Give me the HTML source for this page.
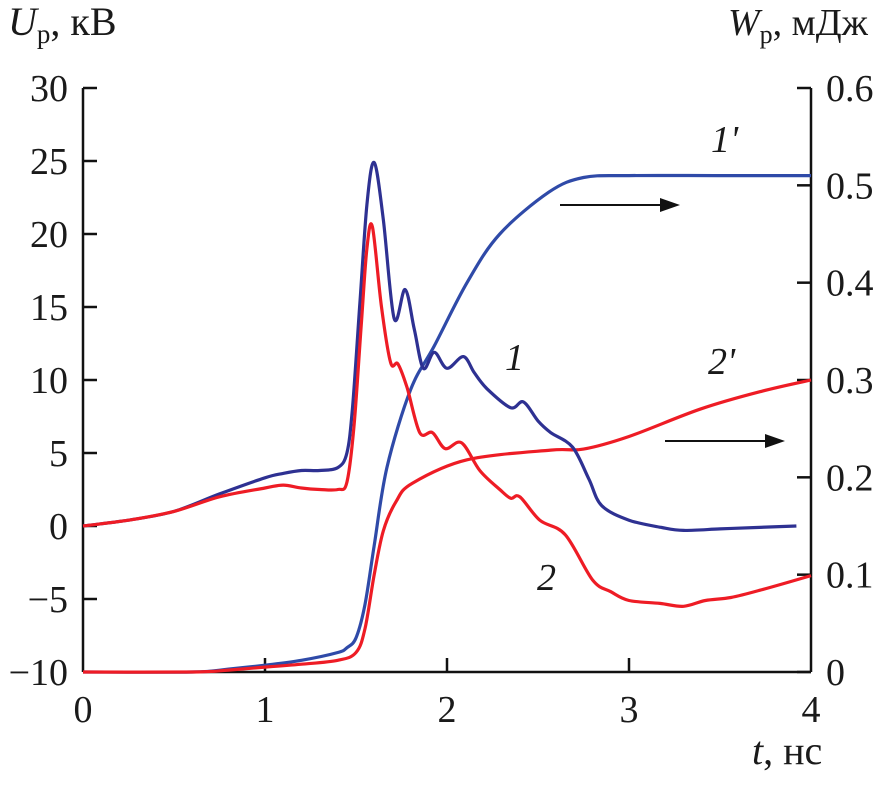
<!DOCTYPE html>
<html><head><meta charset="utf-8"><style>
html,body{margin:0;padding:0;background:#fff;}
svg text{font-family:"Liberation Serif",serif;fill:#1a1a1a;}
</style></head><body>
<svg id="chart" width="879" height="781" viewBox="0 0 879 781" xmlns="http://www.w3.org/2000/svg">
<g id="axes"></g>
<g id="series"></g>
<g>
<text x="8" y="35" font-size="40"><tspan font-style="italic">U</tspan><tspan font-size="27" dy="8">р</tspan><tspan dy="-8">, кВ</tspan></text>
<text x="728" y="35" font-size="38"><tspan font-style="italic">W</tspan><tspan font-size="26" dy="8">р</tspan><tspan dy="-8">, мДж</tspan></text>
<text x="752" y="764" font-size="40"><tspan font-style="italic">t</tspan>, нс</text>
<text x="505" y="370" font-size="38" font-style="italic">1</text>
<text x="537" y="590" font-size="38" font-style="italic">2</text>
<text x="711" y="152" font-size="38" font-style="italic">1'</text>
<text x="708" y="374" font-size="38" font-style="italic">2'</text>
<g><line x1="560" y1="205" x2="665" y2="205" stroke="#111" stroke-width="2"/><polygon points="680,205 660,198 660,212" fill="#111"/></g>
<g><line x1="665" y1="441" x2="770" y2="441" stroke="#111" stroke-width="2"/><polygon points="785,441 765,434 765,448" fill="#111"/></g>
</g>
</svg>
<script>
const xTicks=[0,1,2,3,4];
const yLeftTicks=[30,25,20,15,10,5,0,-5,-10];
const yRightTicks=[0.6,0.5,0.4,0.3,0.2,0.1,0];
const yRightLabels=["0.6","0.5","0.4","0.3","0.2","0.1","0"];
const yLeftLabels=["30","25","20","15","10","5","0","\u22125","\u221210"];
// curve 1 (blue voltage, kV)
const t1=[0,0.25,0.5,0.75,1.0,1.1,1.2,1.3,1.4,1.45,1.48,1.52,1.56,1.6,1.65,1.71,1.77,1.82,1.87,1.93,2.0,2.09,2.15,2.22,2.35,2.42,2.5,2.57,2.69,2.78,2.85,3.0,3.18,3.3,3.5,3.7,3.92];
const u1=[0,0.4,1.0,2.2,3.3,3.6,3.8,3.8,4.0,5,8,15,22,24.9,21,14.2,16.2,13.5,10.8,11.9,10.8,11.6,10.5,9.4,8.1,8.5,7.2,6.4,5.4,3.2,1.4,0.4,-0.1,-0.3,-0.2,-0.1,0];
// curve 2 (red voltage, kV)
const t2=[0,0.25,0.5,0.75,1.0,1.1,1.2,1.3,1.4,1.45,1.49,1.53,1.56,1.59,1.64,1.69,1.73,1.78,1.85,1.92,1.99,2.08,2.18,2.29,2.35,2.4,2.51,2.65,2.8,2.9,3.0,3.17,3.3,3.42,3.56,3.72,4.0];
const u2=[0,0.4,1.0,2.0,2.6,2.8,2.6,2.5,2.5,3,7,14,19,20.5,15,11.2,11.1,9.5,6.4,6.4,5.3,5.7,3.8,2.5,1.9,2.0,0.4,-0.6,-3.7,-4.5,-5.1,-5.3,-5.5,-5.1,-4.9,-4.4,-3.4];
// curve 1' (blue energy, mJ)
const t1p=[0,0.6,0.8,1.0,1.2,1.4,1.45,1.5,1.55,1.6,1.67,1.8,1.93,2.11,2.29,2.56,2.75,3.0,3.5,4.0];
const w1p=[0,0,0.003,0.007,0.012,0.02,0.025,0.035,0.07,0.13,0.21,0.29,0.335,0.40,0.45,0.493,0.508,0.51,0.51,0.51];
// curve 2' (red energy, mJ)
const t2p=[0,0.6,0.8,1.0,1.2,1.4,1.5,1.55,1.6,1.65,1.72,1.81,2.11,2.57,2.75,3.0,3.39,3.72,4.0];
const w2p=[0,0,0.002,0.005,0.008,0.012,0.02,0.045,0.1,0.145,0.175,0.194,0.218,0.228,0.229,0.242,0.27,0.288,0.30];

const X0=83,X1=811,YT=88,YB=672;
function sx(t){return X0+(X1-X0)*t/4;}
function syL(v){return YB-(YB-YT)*(v+10)/40;}
function syR(v){return YB-(YB-YT)*v/0.6;}
const NS="http://www.w3.org/2000/svg";
function mk(tag,attrs,parent){const e=document.createElementNS(NS,tag);for(const k in attrs)e.setAttribute(k,attrs[k]);parent.appendChild(e);return e;}
const ax=document.getElementById('axes');
let e;
e=mk('line',{x1:X0,y1:YT,x2:X0,y2:YB,stroke:'#111','stroke-width':2.5},ax);


e=mk('line',{x1:X1,y1:YT,x2:X1,y2:YB,stroke:'#111','stroke-width':2.5},ax);


e=mk('line',{x1:X0,y1:YB,x2:X1,y2:YB,stroke:'#111','stroke-width':2.5},ax);


xTicks.forEach((t,i)=>{
 const x=sx(t);
 if(i>0&&i<xTicks.length-1){e=mk('line',{x1:x,y1:YB,x2:x,y2:YB-14,stroke:'#111','stroke-width':2.5},ax);
 
 }
 e=mk('text',{x:x,y:722,'font-size':38,'text-anchor':'middle'},ax);e.textContent=String(t);
 
 
});
yLeftTicks.forEach((v,i)=>{
 const y=syL(v);
 e=mk('line',{x1:X0,y1:y,x2:X0+14,y2:y,stroke:'#111','stroke-width':2.5},ax);
 
 
 e=mk('text',{x:68,y:y+13,'font-size':38,'text-anchor':'end'},ax);e.textContent=yLeftLabels[i];
 
 
});
yRightTicks.forEach((v,i)=>{
 const y=syR(v);
 e=mk('line',{x1:X1,y1:y,x2:X1-14,y2:y,stroke:'#111','stroke-width':2.5},ax);
 
 
 e=mk('text',{x:826,y:y+13,'font-size':38,'text-anchor':'start'},ax);e.textContent=yRightLabels[i];
 
 
});
function path(ts,vs,fy){
 const p=ts.map((t,i)=>[sx(t),fy(vs[i])]);
 let d='M'+p[0][0].toFixed(1)+','+p[0][1].toFixed(1);
 for(let i=0;i<p.length-1;i++){
  const p0=p[Math.max(0,i-1)],p1=p[i],p2=p[i+1],p3=p[Math.min(p.length-1,i+2)];
  const c1=[p1[0]+(p2[0]-p0[0])/6,p1[1]+(p2[1]-p0[1])/6];
  const c2=[p2[0]-(p3[0]-p1[0])/6,p2[1]-(p3[1]-p1[1])/6];
  d+=' C'+c1.map(v=>v.toFixed(1)).join(',')+' '+c2.map(v=>v.toFixed(1)).join(',')+' '+p2.map(v=>v.toFixed(1)).join(',');
 }
 return d;
}
const sg=document.getElementById('series');
const BLUE='#2e3192',RED='#ee1c25';
e=mk('path',{d:path(t1p,w1p,syR),fill:'none',stroke:'#2f4aa8','stroke-width':3.2},sg);


e=mk('path',{d:path(t2p,w2p,syR),fill:'none',stroke:RED,'stroke-width':3.2},sg);


e=mk('path',{d:path(t1,u1,syL),fill:'none',stroke:BLUE,'stroke-width':3.2},sg);


e=mk('path',{d:path(t2,u2,syL),fill:'none',stroke:RED,'stroke-width':3.2},sg);


</script>
</body></html>
